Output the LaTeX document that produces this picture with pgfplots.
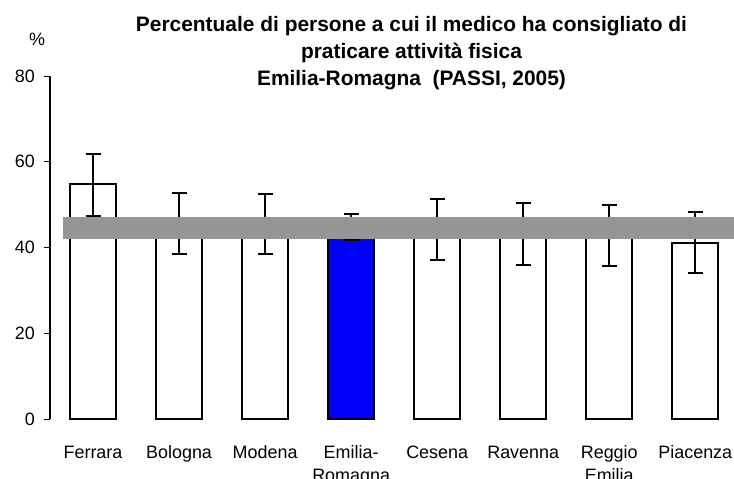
\documentclass[border=0pt]{standalone}
\usepackage{fontspec}
\setmainfont{Liberation Sans}
\usepackage{pgfplots}
\usepackage{pgfplotstable}
\pgfplotsset{compat=1.18}
\definecolor{bandgray}{HTML}{969696}
\definecolor{erblue}{HTML}{0000FF}
\pgfplotstableread{
x y ep em
0 54.9 6.8 7.5
1 45.6 7.2 7.1
2 45.4 7.1 7.0
4 44.2 7.0 7.1
5 43.2 7.2 7.2
6 42.7 7.1 7.1
7 41.1 7.2 7.0
}\others
\pgfplotstableread{
x y ep em
3 44.8 3.1 3.1
}\region
\begin{document}
\begin{tikzpicture}
\begin{axis}[name=ax,
  scale only axis, width=684bp, height=343bp,
  xmin=-0.5, xmax=7.45, ymin=0, ymax=80,
  axis y line=left, axis x line=bottom,
  x axis line style={draw=none},
  y axis line style={-, line width=1.2bp, black},
  ytick={0,20,40,60,80},
  xtick={0,...,7},
  xticklabels={\strut Ferrara,\strut Bologna,\strut Modena,{\strut Emilia-\\Romagna},\strut Cesena,\strut Ravenna,{\strut Reggio\\Emilia},\strut Piacenza},
  xtick style={draw=none},
  ytick style={line width=1bp, black},
  tick align=outside, major tick length=6bp,
  /pgf/number format/assume math mode=true,
  yticklabel style={font=\fontsize{18}{23}\selectfont, inner sep=0pt, xshift=-9bp},
  xticklabel style={font=\fontsize{18}{22.5}\selectfont, align=center, anchor=north, inner sep=0pt, yshift=-18bp},
  clip=false,
]
\addplot[ybar, bar width=46bp, bar shift=0pt, fill=white, draw=black, line width=1.8bp,
  error bars/.cd, y dir=both, y explicit,
  error bar style={line width=2bp, black},
  error mark options={rotate=90, mark size=7.5bp, line width=2bp, black}]
  table[x=x, y=y, y error plus=ep, y error minus=em] {\others};
\addplot[ybar, bar width=46bp, bar shift=0pt, fill=erblue, draw=black, line width=1.8bp,
  error bars/.cd, y dir=both, y explicit,
  error bar style={line width=2bp, black},
  error mark options={rotate=90, mark size=7.5bp, line width=2bp, black}]
  table[x=x, y=y, y error plus=ep, y error minus=em] {\region};
\addplot[fill=bandgray, draw=none] coordinates {(-0.35,41.9) (7.45,41.9) (7.45,47.0) (-0.35,47.0)} -- cycle;
\end{axis}
\node[anchor=base, font=\fontsize{18}{23}\selectfont] at ([shift={(-13bp,373bp)}]ax.south west) {\%};
\node[anchor=base, font=\bfseries\fontsize{21}{27}\selectfont] at ([shift={(361.5bp,387bp)}]ax.south west) {Percentuale di persone a cui il medico ha consigliato di};
\node[anchor=base, font=\bfseries\fontsize{21}{27}\selectfont] at ([shift={(361.5bp,360bp)}]ax.south west) {praticare attività fisica};
\node[anchor=base, font=\bfseries\fontsize{21}{27}\selectfont] at ([shift={(361.5bp,333bp)}]ax.south west) {Emilia-Romagna\ \ (PASSI, 2005)};
\pgfresetboundingbox
\path[use as bounding box] ([shift={(-50bp,-60bp)}]ax.south west) rectangle ([shift={(684bp,419bp)}]ax.south west);
\end{tikzpicture}
\end{document}
